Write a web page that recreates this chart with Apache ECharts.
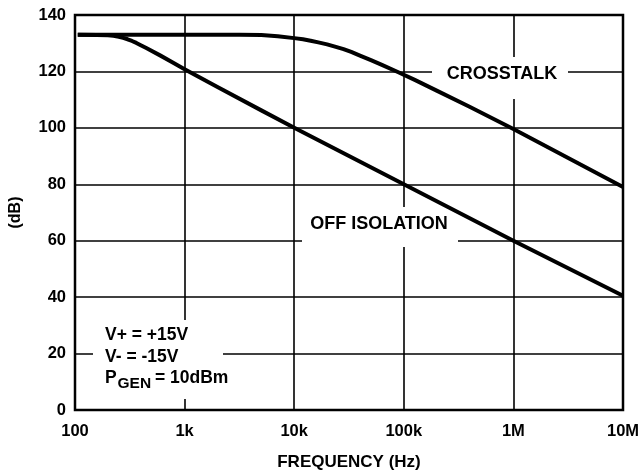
<!DOCTYPE html>
<html>
<head>
<meta charset="utf-8">
<script src="https://cdn.jsdelivr.net/npm/echarts@6/dist/echarts.min.js"></script>
<style>html,body{margin:0;padding:0;background:#fff}#c{width:641px;height:475px}</style>
</head>
<body>
<div id="c"></div>
<script>
// Tick labels for the log frequency axis
var xTickValues = [100, 1e3, 1e4, 1e5, 1e6, 1e7];
var xTickLabels = ['100', '1k', '10k', '100k', '1M', '10M'];

// CROSSTALK curve (Hz, dB)
var crosstalkFreq = [106, 1000, 3162, 5012, 7079, 10000, 12023, 14125, 16596, 19953, 23988, 28184, 33113, 39811, 50119, 63096, 89125, 125893, 199526, 398107, 1000000, 10000000];
var crosstalkDb   = [133, 133, 133, 132.9, 132.5, 131.8, 131.4, 130.9, 130.3, 129.6, 128.7, 127.9, 126.9, 125.6, 124.0, 122.3, 119.7, 117.0, 113.2, 107.5, 99.6, 79];

// OFF ISOLATION curve (Hz, dB)
var isolationFreq = [106, 158, 200, 224, 251, 275, 302, 331, 363, 398, 447, 603, 794, 1000, 1995, 5012, 10000, 100000, 1000000, 10000000];
var isolationDb   = [133, 132.95, 132.8, 132.6, 132.3, 131.9, 131.4, 130.8, 130.1, 129.3, 128.3, 125.6, 123.0, 120.8, 114.5, 106.2, 100, 80, 60, 40.5];

function pairs(xs, ys) { return xs.map(function (x, i) { return [x, ys[i]]; }); }

var FONT = '"Liberation Sans", Arial, sans-serif';
var chart = echarts.init(document.getElementById('c'), null, { renderer: 'canvas' });

chart.setOption({
  animation: false,
  backgroundColor: '#fff',
  grid: { left: 75, top: 15, right: 18, bottom: 65, containLabel: false, outerBoundsMode: 'none',
          show: true, borderColor: '#000', borderWidth: 2.5, backgroundColor: 'transparent' },
  xAxis: {
    type: 'log', logBase: 10, min: 100, max: 1e7,
    name: 'FREQUENCY (Hz)', nameLocation: 'middle', nameGap: 44,
    nameTextStyle: { fontFamily: FONT, fontWeight: 'bold', fontSize: 17, color: '#000' },
    axisLine: { show: false }, axisTick: { show: false }, minorTick: { show: false },
    splitLine: { show: true, lineStyle: { color: '#000', width: 1.6 } },
    axisLabel: {
      margin: 13, fontFamily: FONT, fontWeight: 'bold', fontSize: 16.5, color: '#000',
      formatter: function (v) { var i = xTickValues.indexOf(Math.round(v)); return i >= 0 ? xTickLabels[i] : ''; }
    }
  },
  yAxis: {
    type: 'value', min: 0, max: 140, interval: 20,
    name: '(dB)', nameLocation: 'middle', nameGap: 51, nameRotate: 90,
    nameTextStyle: { fontFamily: FONT, fontWeight: 'bold', fontSize: 16, color: '#000' },
    axisLine: { show: false }, axisTick: { show: false },
    splitLine: { show: true, lineStyle: { color: '#000', width: 1.6 } },
    axisLabel: { margin: 9, fontFamily: FONT, fontWeight: 'bold', fontSize: 16.5, color: '#000' }
  },
  series: [
    { name: 'CROSSTALK', type: 'line', z: 10, data: pairs(crosstalkFreq, crosstalkDb), smooth: false,
      showSymbol: false, symbol: 'none', lineStyle: { color: '#000', width: 4, join: 'round', cap: 'butt' } },
    { name: 'OFF ISOLATION', type: 'line', z: 10, data: pairs(isolationFreq, isolationDb), smooth: false,
      showSymbol: false, symbol: 'none', lineStyle: { color: '#000', width: 4, join: 'round', cap: 'butt' } }
  ],
  graphic: [
    { type: 'rect', z: 1, shape: { x: 432, y: 57, width: 136, height: 42 }, style: { fill: '#fff' } },
    { type: 'text', z: 2, x: 502, y: 74, style: { text: 'CROSSTALK', fill: '#000', font: 'bold 18px ' + FONT, align: 'center', verticalAlign: 'middle' } },
    { type: 'rect', z: 1, shape: { x: 302, y: 207, width: 156, height: 40 }, style: { fill: '#fff' } },
    { type: 'text', z: 2, x: 379, y: 224, style: { text: 'OFF ISOLATION', fill: '#000', font: 'bold 18px ' + FONT, align: 'center', verticalAlign: 'middle' } },
    { type: 'rect', z: 1, shape: { x: 93, y: 320, width: 130, height: 79 }, style: { fill: '#fff' } },
    { type: 'text', z: 2, x: 105, y: 335, style: { text: 'V+ = +15V', fill: '#000', font: 'bold 17.5px ' + FONT, align: 'left', verticalAlign: 'middle' } },
    { type: 'text', z: 2, x: 105, y: 357, style: { text: 'V- = -15V', fill: '#000', font: 'bold 17.5px ' + FONT, align: 'left', verticalAlign: 'middle' } },
    { type: 'text', z: 2, x: 105, y: 378.5, style: { text: 'P', fill: '#000', font: 'bold 17.5px ' + FONT, align: 'left', verticalAlign: 'middle' } },
    { type: 'text', z: 2, x: 117.5, y: 383.5, style: { text: 'GEN', fill: '#000', font: 'bold 15.5px ' + FONT, align: 'left', verticalAlign: 'middle' } },
    { type: 'text', z: 2, x: 155, y: 378.5, style: { text: '= 10dBm', fill: '#000', font: 'bold 17.5px ' + FONT, align: 'left', verticalAlign: 'middle' } }
  ]
});
</script>
</body>
</html>
